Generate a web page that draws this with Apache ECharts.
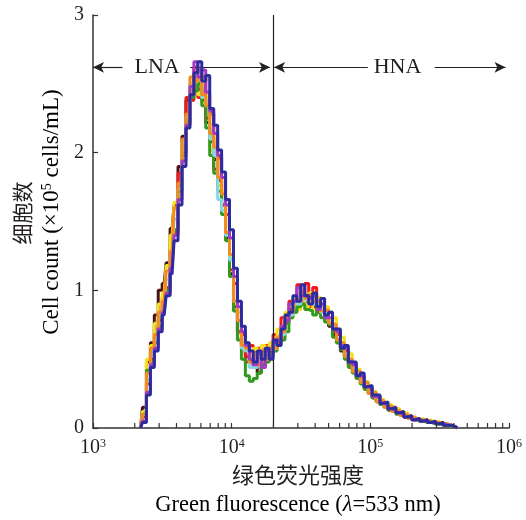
<!DOCTYPE html>
<html><head><meta charset="utf-8">
<script src="https://cdn.jsdelivr.net/npm/echarts@6/dist/echarts.min.js"></script>
<style>html,body{margin:0;padding:0;background:#fff}#c{width:526px;height:520px}</style>
</head><body><div id="c"></div>
<script>
// Bin centres (green fluorescence, log channels)
const binCenters = [
  2200,2350,2510,2680,2860,3050,3260,3480,3720,3970,
  4240,4530,4840,5170,5520,5890,6290,6720,7180,7670,
  8190,8740,9340,9970,10650,11370,12150,12970,13850,14790,
  15800,16870,18020,19250,20550,21950,23440,25040,26740,28560,
  30500,32570,34790,37150,39680,42380,45260,48340,51620,55130,
  58880,62890,67160,71730,76600,81810,87370,93310,99660,106440,
  113670,121400,129650,138470,147880,157940,168680,180150,192400,205480,
  219450,234370,250310,267330,285510,304920,325660,347800,371450,396700,
  423680];

const sDark = [
  0,0.15,0.48,0.62,0.82,1.0,1.05,1.2,1.45,1.62,
  1.9,2.12,2.38,2.42,2.55,2.46,2.38,2.22,2.08,1.95,
  1.8,1.62,1.38,1.12,0.88,0.7,0.6,0.52,0.48,0.44,
  0.4,0.44,0.5,0.55,0.58,0.66,0.72,0.8,0.86,0.92,
  0.9,0.98,0.92,0.96,0.88,0.9,0.84,0.8,0.74,0.68,
  0.62,0.56,0.52,0.45,0.42,0.36,0.34,0.29,0.27,0.22,
  0.2,0.17,0.17,0.13,0.14,0.11,0.1,0.08,0.09,0.06,
  0.07,0.05,0.06,0.04,0.05,0.03,0.04,0.02,0.02,0.01,
  0];
const sRed = [
  0,0.08,0.32,0.5,0.72,0.78,0.95,1.02,1.3,1.42,
  1.85,2.0,2.4,2.38,2.62,2.4,2.55,2.25,2.28,1.88,
  1.96,1.62,1.55,1.15,1.05,0.7,0.68,0.48,0.6,0.44,
  0.58,0.46,0.6,0.56,0.68,0.62,0.8,0.76,0.92,0.84,
  1.04,0.9,1.05,0.88,1.02,0.84,0.94,0.8,0.84,0.7,
  0.68,0.58,0.56,0.46,0.46,0.37,0.37,0.29,0.29,0.22,
  0.23,0.17,0.18,0.13,0.15,0.11,0.12,0.08,0.09,0.06,
  0.07,0.05,0.06,0.04,0.05,0.03,0.04,0.02,0.02,0.01,
  0];
const sYellow = [
  0,0.12,0.5,0.6,0.76,0.9,0.98,1.18,1.4,1.64,
  1.7,2.08,2.2,2.5,2.58,2.42,2.36,2.4,2.02,2.1,
  1.76,1.72,1.42,1.24,0.9,0.84,0.62,0.62,0.5,0.58,
  0.52,0.6,0.48,0.62,0.58,0.72,0.66,0.84,0.8,0.94,
  0.86,0.96,0.88,0.98,0.86,0.95,0.84,0.88,0.78,0.8,
  0.64,0.66,0.52,0.54,0.42,0.43,0.34,0.34,0.26,0.27,
  0.2,0.21,0.15,0.17,0.12,0.14,0.09,0.11,0.07,0.08,
  0.06,0.07,0.05,0.06,0.04,0.05,0.03,0.03,0.02,0.01,
  0];
const sGreen = [
  0,0.1,0.42,0.48,0.62,0.74,0.86,1.0,1.2,1.44,
  1.72,1.98,2.22,2.4,2.45,2.5,2.34,2.18,1.98,1.85,
  1.72,1.55,1.36,1.1,0.85,0.64,0.5,0.38,0.34,0.36,
  0.4,0.45,0.48,0.54,0.56,0.6,0.64,0.7,0.8,0.84,
  0.88,0.9,0.86,0.85,0.82,0.88,0.8,0.77,0.75,0.66,
  0.62,0.57,0.5,0.44,0.4,0.36,0.32,0.28,0.25,0.22,
  0.19,0.17,0.15,0.13,0.12,0.1,0.09,0.08,0.07,0.06,
  0.05,0.05,0.04,0.04,0.03,0.03,0.02,0.02,0.01,0.01,
  0];
const sCyan = [
  0,0.1,0.35,0.56,0.64,0.82,0.88,1.08,1.25,1.52,
  1.74,2.08,2.26,2.5,2.52,2.58,2.4,2.34,2.1,1.98,
  1.66,1.58,1.4,1.22,0.92,0.78,0.58,0.56,0.44,0.44,
  0.48,0.52,0.5,0.57,0.58,0.66,0.68,0.8,0.82,0.92,
  0.9,0.96,0.93,0.94,0.9,0.91,0.84,0.84,0.77,0.74,
  0.65,0.62,0.53,0.5,0.42,0.41,0.34,0.33,0.26,0.26,
  0.19,0.2,0.15,0.16,0.12,0.13,0.09,0.1,0.07,0.08,
  0.06,0.06,0.05,0.05,0.04,0.04,0.03,0.03,0.02,0.01,
  0];
const sOrange = [
  0,0.1,0.4,0.58,0.68,0.84,0.92,1.14,1.28,1.6,
  1.78,2.1,2.28,2.55,2.52,2.6,2.42,2.34,2.14,2.04,
  1.82,1.7,1.42,1.26,0.92,0.78,0.6,0.58,0.48,0.55,
  0.46,0.56,0.5,0.58,0.58,0.66,0.7,0.8,0.84,0.92,
  0.92,0.98,0.94,0.97,0.92,0.92,0.85,0.86,0.76,0.75,
  0.64,0.62,0.52,0.5,0.41,0.41,0.33,0.33,0.25,0.26,
  0.19,0.2,0.15,0.16,0.12,0.13,0.09,0.1,0.07,0.08,
  0.06,0.06,0.05,0.05,0.04,0.04,0.03,0.03,0.02,0.01,
  0];
const sPurple = [
  0,0.05,0.26,0.46,0.58,0.72,0.84,0.98,1.16,1.4,
  1.66,1.94,2.2,2.48,2.66,2.55,2.6,2.44,2.3,2.14,
  1.98,1.82,1.62,1.38,1.1,0.88,0.7,0.6,0.5,0.46,
  0.54,0.44,0.56,0.52,0.62,0.64,0.74,0.78,0.9,0.92,
  1.02,0.96,0.96,0.94,0.96,0.86,0.9,0.8,0.8,0.72,
  0.7,0.6,0.58,0.48,0.46,0.38,0.38,0.3,0.29,0.23,
  0.22,0.18,0.17,0.14,0.13,0.11,0.1,0.08,0.08,0.06,
  0.06,0.05,0.05,0.04,0.04,0.03,0.03,0.02,0.02,0.01,
  0];
const sBlue = [
  0,0.04,0.24,0.44,0.56,0.7,0.82,0.96,1.12,1.36,
  1.62,1.9,2.18,2.42,2.58,2.66,2.52,2.56,2.32,2.2,
  2.02,1.86,1.66,1.44,1.16,0.92,0.74,0.62,0.56,0.48,
  0.56,0.5,0.58,0.5,0.64,0.6,0.72,0.82,0.84,0.96,
  0.92,1.04,0.96,0.9,0.98,0.88,0.94,0.82,0.84,0.72,
  0.72,0.58,0.6,0.48,0.48,0.38,0.4,0.3,0.31,0.24,
  0.24,0.18,0.19,0.14,0.15,0.11,0.12,0.08,0.09,0.06,
  0.07,0.05,0.06,0.04,0.05,0.03,0.04,0.02,0.02,0.01,
  0];

const seriesValues = [sDark, sRed, sYellow, sGreen, sCyan, sOrange, sPurple, sBlue];
const seriesColors = ['#4a1212', '#f01818', '#f2e21a', '#2f9a1c', '#86d8e4', '#f58a1e', '#a03cc6', '#2c2c9e'];

const minorTicks = [2000,3000,4000,5000,6000,7000,8000,9000,
  20000,30000,40000,50000,60000,70000,80000,90000,
  200000,300000,400000,500000,600000,700000,800000,900000];
const gateValue = 20000;
const arrowY = 2.62;
const arrowSegments = [[1630, 1000], [5020, 18900], [95900, 20230], [291000, 944000]];
const regionLabels = [['LNA', 2900], ['HNA', 157000]];

const serif = '"Liberation Serif", "Times New Roman", serif';
const cjk = '"Noto Sans CJK SC", sans-serif';
const ink = '#231f20';

const chart = echarts.init(document.getElementById('c'));

const lineSeries = seriesValues.map((ys, k) => ({
  type: 'line', step: 'middle', symbol: 'none', silent: true, animation: false,
  data: binCenters.map((x, i) => [x, ys[i]]),
  lineStyle: { color: seriesColors[k], width: 3 },
  z: 3 + k
}));

const option = {
  animation: false,
  grid: { left: 93, right: 17, top: 15, bottom: 92 },
  xAxis: {
    type: 'log', logBase: 10, min: 1000, max: 1000000,
    axisLine: { lineStyle: { color: '#333', width: 1.5 } },
    axisTick: { inside: true, length: 5, lineStyle: { color: '#333', width: 1.2 } },
    splitLine: { show: false },
    axisLabel: {
      margin: 10,
      formatter: v => '{b|10}{s|' + Math.round(Math.log10(v)) + '}',
      rich: {
        b: { fontFamily: serif, fontSize: 20, color: ink },
        s: { fontFamily: serif, fontSize: 12, color: ink, verticalAlign: 'top' }
      }
    }
  },
  yAxis: {
    type: 'value', min: 0, max: 3, interval: 1,
    axisLine: { show: true, lineStyle: { color: '#333', width: 1.5 } },
    axisTick: { show: true, inside: true, length: 5, lineStyle: { color: '#333', width: 1.2 } },
    splitLine: { show: false },
    axisLabel: { margin: 9, fontFamily: serif, fontSize: 20, color: ink }
  },
  series: [
    {
      type: 'custom', silent: true, z: 20, clip: false,
      data: minorTicks.map(v => [v, 0]),
      encode: { x: 0, y: 1 },
      renderItem: (params, api) => {
        const p = api.coord([api.value(0), 0]);
        return { type: 'line', shape: { x1: p[0], y1: p[1], x2: p[0], y2: p[1] - 5 },
                 style: { stroke: '#333', lineWidth: 1.2 } };
      },
      markLine: {
        silent: true, animation: false,
        symbol: ['none', 'none'],
        symbolSize: [8, 11],
        label: { show: false },
        lineStyle: { color: '#222', width: 1.2, type: 'solid' },
        data: [{ xAxis: gateValue }].concat(arrowSegments.map(s => [
          { coord: [s[0], arrowY], symbol: 'none' },
          { coord: [s[1], arrowY], symbol: 'arrow', symbolSize: [8, 11] }
        ]))
      }
    }
  ].concat(lineSeries)
};
chart.setOption(option);

const graphics = regionLabels.map(([t, x]) => {
  const p = chart.convertToPixel({ gridIndex: 0 }, [x, arrowY]);
  return { type: 'text', x: p[0], y: p[1], z: 1,
    style: { text: t, fontFamily: serif, fontSize: 22, fill: ink, align: 'center', verticalAlign: 'middle', backgroundColor: '#fff' } };
});
graphics.push(
  { type: 'text', x: 22, y: 213, rotation: Math.PI / 2,
    style: { text: '细胞数', fontFamily: cjk, fontSize: 21, fill: ink, align: 'center', verticalAlign: 'middle' } },
  { type: 'text', x: 52, y: 212, rotation: Math.PI / 2,
    style: { text: '{a|Cell count (×10}{s|5}{a| cells/mL)}', align: 'center', verticalAlign: 'middle',
      rich: { a: { fontFamily: serif, fontSize: 23, color: ink },
              s: { fontFamily: serif, fontSize: 14, color: ink, verticalAlign: 'top' } } } },
  { type: 'text', x: 298, y: 475,
    style: { text: '绿色荧光强度', fontFamily: cjk, fontSize: 22, fill: ink, align: 'center', verticalAlign: 'middle' } },
  { type: 'text', x: 298, y: 505,
    style: { text: '{a|Green fluorescence (}{i|λ}{a|=533 nm)}', align: 'center', verticalAlign: 'middle',
      rich: { a: { fontFamily: serif, fontSize: 22.5, color: ink },
              i: { fontFamily: serif, fontSize: 22.5, color: ink, fontStyle: 'italic' } } } }
);
chart.setOption({ graphic: graphics });
</script>
</body></html>
